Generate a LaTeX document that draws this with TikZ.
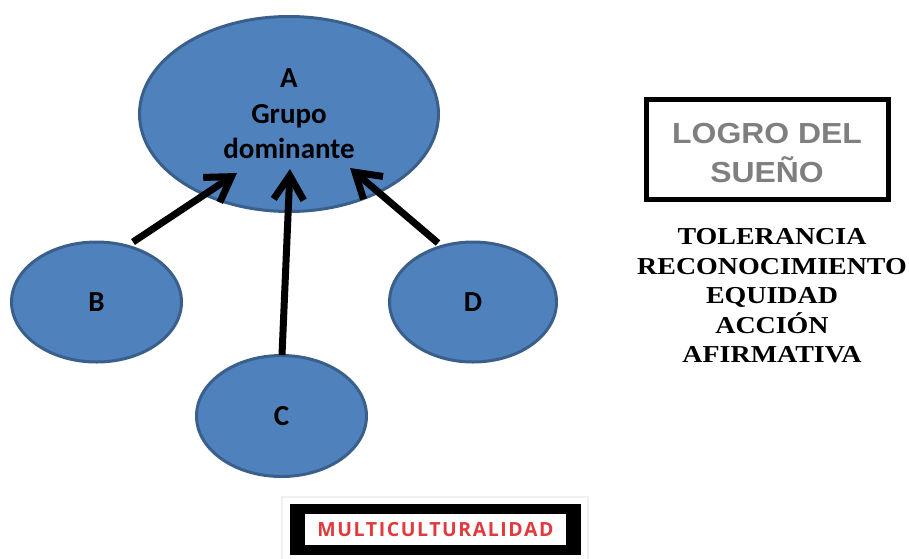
\documentclass[tikz,border=0pt]{standalone}
\usepackage{fontspec}
\setmainfont{Liberation Serif}
\newfontfamily\carlito{Carlito}
\newfontfamily\arialf[FakeStretch=1.1]{Liberation Sans}
\newfontfamily\timesw[FakeStretch=1.15]{Liberation Serif}
\newfontfamily\opensans[LetterSpace=8]{Open Sans}
\usetikzlibrary{shapes.geometric,arrows.meta}
\definecolor{nodefill}{HTML}{4F81BD}
\definecolor{nodeline}{HTML}{3A5F8B}
\definecolor{graytext}{HTML}{7F7F7F}
\definecolor{redtext}{HTML}{E03A3E}
\tikzset{
  blob/.style={ellipse, fill=nodefill, draw=nodeline, line width=3pt, inner sep=0pt,
    font=\carlito\bfseries\fontsize{29}{35.5}\selectfont, align=center},
  bigarrow/.style={line width=7pt, -{Straight Barb[length=24pt,width=30pt]}},
}
\begin{document}
\begin{tikzpicture}[x=1pt,y=-1pt]
\useasboundingbox (0,0) rectangle (909,558);
% ellipses
\node[blob, minimum width=299pt, minimum height=195pt] (A) at (289,114) {A\\Grupo\\dominante};
\node[blob, minimum width=170pt, minimum height=120pt] (B) at (96.5,302) {B};
\node[blob, minimum width=170pt, minimum height=121pt] (C) at (281.5,416) {C};
\node[blob, minimum width=167pt, minimum height=120pt] (D) at (473,302) {D};
% arrow ends
\coordinate (bt) at (133,242);
\coordinate (bh) at (237,173);
\coordinate (ct) at (282,355);
\coordinate (ch) at (290,169);
\coordinate (dt) at (438,243);
\coordinate (dh) at (350,168);
\draw[bigarrow] (bt) -- (bh);
\draw[bigarrow] (ct) -- (ch);
\draw[bigarrow] (dt) -- (dh);
% logro box
\node[draw=black, line width=5pt, fill=white, minimum width=242pt, minimum height=100pt, inner sep=0pt] (logro) at (767.5,149.5) {};
\node[align=center, inner sep=0pt, text=graytext, font=\arialf\bfseries\fontsize{29}{38.5}\selectfont] (logrotext) at (767,153) {LOGRO DEL\\SUEÑO};
% values
\node[align=center, font=\timesw\bfseries\fontsize{24.3}{29.5}\selectfont, inner sep=0pt] (vals) at (772,296)
  {TOLERANCIA\\RECONOCIMIENTO\\EQUIDAD\\ACCIÓN\\AFIRMATIVA};
% multiculturalidad
\node[draw=black!6, line width=1.5pt, fill=white, minimum width=306pt, minimum height=66pt, inner sep=0pt] (shadow) at (435,530) {};
\node[fill=black, minimum width=291pt, minimum height=51pt, inner sep=0pt] (frame) at (435.5,529.5) {};
\node[fill=white, minimum width=261pt, minimum height=31pt, inner sep=0pt, text=redtext,
  font=\opensans\bfseries\fontsize{19.5}{22}\selectfont] (multi) at (435.5,529.5) {MULTICULTURALIDAD};
\end{tikzpicture}
\end{document}
